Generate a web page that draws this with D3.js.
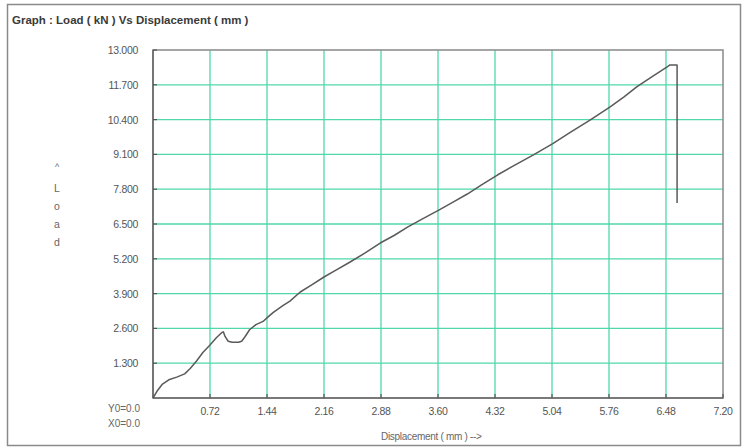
<!DOCTYPE html>
<html><head><meta charset="utf-8">
<script src="https://cdn.jsdelivr.net/npm/d3@7"></script>
<style>body{margin:0;background:#fff;}svg{display:block;font-family:"Liberation Sans",Arial,sans-serif;}</style>
</head><body>
<svg id="c" width="746" height="448"></svg>
<script>
const displacement = [0,0.05,0.12,0.2,0.3,0.4,0.47,0.55,0.63,0.72,0.8,0.87,0.89,0.91,0.95,1.0,1.08,1.12,1.16,1.22,1.3,1.39,1.45,1.52,1.64,1.73,1.86,2.0,2.16,2.3,2.49,2.68,2.87,3.05,3.22,3.41,3.61,3.79,3.97,4.15,4.35,4.57,4.8,5.05,5.27,5.52,5.77,5.95,6.11,6.3,6.49,6.53,6.62,6.62];
const load = [0,0.25,0.52,0.68,0.78,0.9,1.1,1.38,1.7,1.98,2.25,2.45,2.47,2.3,2.12,2.08,2.08,2.12,2.28,2.55,2.74,2.86,3.02,3.2,3.45,3.62,3.96,4.22,4.52,4.76,5.08,5.42,5.79,6.08,6.39,6.7,7.02,7.32,7.62,7.96,8.33,8.7,9.07,9.5,9.92,10.38,10.87,11.25,11.62,12.0,12.36,12.44,12.44,7.28];
const xTicks = [0.72,1.44,2.16,2.88,3.60,4.32,5.04,5.76,6.48,7.20];
const xTickLabels = ["0.72","1.44","2.16","2.88","3.60","4.32","5.04","5.76","6.48","7.20"];
const yTicks = [1.3,2.6,3.9,5.2,6.5,7.8,9.1,10.4,11.7,13.0];
const yTickLabels = ["1.300","2.600","3.900","5.200","6.500","7.800","9.100","10.400","11.700","13.000"];

const svg = d3.select("#c");
const L = 153, R = 723, T = 50, B = 398;
const x = d3.scaleLinear().domain([0,7.2]).range([L,R]);
const y = d3.scaleLinear().domain([0,13]).range([B,T]);

// outer frame
svg.append("rect").attr("x",7.5).attr("y",4.5).attr("width",733).attr("height",441)
  .attr("fill","none").attr("stroke","#8a8a8a").attr("stroke-width",1.5);

svg.append("text").attr("x",12).attr("y",24).attr("font-size",11.5).attr("font-weight","bold")
  .attr("fill","#3a3a3a").text("Graph : Load ( kN ) Vs Displacement ( mm )");

// grid
const g = svg.append("g");
g.selectAll(".vg").data(xTicks.slice(0,-1)).enter().append("line")
  .attr("x1",d=>x(d)).attr("x2",d=>x(d)).attr("y1",T).attr("y2",B)
  .attr("stroke","#4fd8a8").attr("stroke-width",1.3);
g.selectAll(".hg").data(yTicks.slice(0,-1)).enter().append("line")
  .attr("x1",L).attr("x2",R).attr("y1",d=>y(d)).attr("y2",d=>y(d))
  .attr("stroke","#4fd8a8").attr("stroke-width",1.3);

// border
svg.append("rect").attr("x",L).attr("y",T).attr("width",R-L).attr("height",B-T)
  .attr("fill","none").attr("stroke","#909090").attr("stroke-width",1.6);
svg.append("line").attr("x1",L).attr("x2",L).attr("y1",T).attr("y2",B).attr("stroke","#6a6a6a").attr("stroke-width",1.6);
svg.append("line").attr("x1",L).attr("x2",R).attr("y1",B).attr("y2",B).attr("stroke","#6a6a6a").attr("stroke-width",1.6);

// ticks
svg.selectAll(".yt").data(yTicks).enter().append("line")
  .attr("x1",L).attr("x2",L+4).attr("y1",d=>y(d)).attr("y2",d=>y(d)).attr("stroke","#555").attr("stroke-width",1.2);
svg.selectAll(".xt").data(xTicks).enter().append("line")
  .attr("x1",d=>x(d)).attr("x2",d=>x(d)).attr("y1",B).attr("y2",B-4).attr("stroke","#555").attr("stroke-width",1.2);

// tick labels
svg.selectAll(".yl").data(yTicks).enter().append("text")
  .attr("x",138).attr("y",(d)=>y(d)+4).attr("text-anchor","end").attr("font-size",10.5)
  .attr("fill","#555").attr("letter-spacing","-0.3").text((d,i)=>yTickLabels[i]);
svg.selectAll(".xl").data(xTicks).enter().append("text")
  .attr("x",d=>x(d)).attr("y",415).attr("text-anchor","middle").attr("font-size",10.5)
  .attr("fill","#555").attr("letter-spacing","-0.3").text((d,i)=>xTickLabels[i]);

// axis titles
const yl = ["^","L","o","a","d"];
svg.selectAll(".ylab").data(yl).enter().append("text")
  .attr("x",57).attr("y",(d,i)=>170+i*18 + (i===0?0:4)).attr("text-anchor","middle")
  .attr("font-size",(d,i)=>i===0?9:10.5).attr("fill","#666").text(d=>d);
svg.append("text").attr("x",108).attr("y",412).attr("font-size",10).attr("fill","#666").text("Y0=0.0");
svg.append("text").attr("x",108).attr("y",427).attr("font-size",10).attr("fill","#666").text("X0=0.0");
svg.append("text").attr("x",381).attr("y",440).attr("font-size",10).attr("fill","#666").attr("letter-spacing","-0.3").text("Displacement ( mm )  -->");

// curve
const pts = displacement.map((d,i)=>[d,load[i]]);
svg.append("path").datum(pts)
  .attr("d",d3.line().x(d=>x(d[0])).y(d=>y(d[1])))
  .attr("fill","none").attr("stroke","#5a5a5a").attr("stroke-width",1.5).attr("stroke-linejoin","round");
</script>
</body></html>
